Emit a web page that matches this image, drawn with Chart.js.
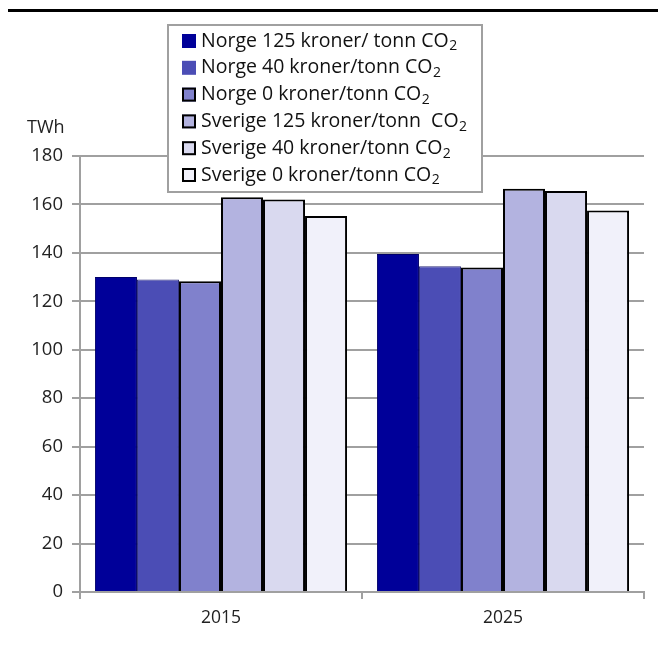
<!DOCTYPE html>
<html>
<head>
<meta charset="utf-8">
<script src="https://cdn.jsdelivr.net/npm/chart.js@4/dist/chart.umd.min.js"></script>
<style>
  html, body { margin: 0; padding: 0; background: #fff; }
  #wrap { width: 666px; height: 646px; position: relative; }
</style>
</head>
<body>
<div id="wrap"><canvas id="c" width="666" height="646"></canvas></div>
<script>
// Electricity demand, TWh, by CO2 price scenario
const years = ["2015", "2025"];
const seriesNames = [
  "Norge 125 kroner/ tonn CO₂",
  "Norge 40 kroner/tonn CO₂",
  "Norge 0 kroner/tonn CO₂",
  "Sverige 125 kroner/tonn  CO₂",
  "Sverige 40 kroner/tonn CO₂",
  "Sverige 0 kroner/tonn CO₂"
];
const norge125 = [130, 139.5];
const norge40 = [129, 134.5];
const norge0 = [128.3, 134];
const sverige125 = [163, 166.5];
const sverige40 = [162, 165.5];
const sverige0 = [155.2, 157.5];
const yTicks = [0, 20, 40, 60, 80, 100, 120, 140, 160, 180];
const unitLabel = "TWh";

const fills = ["#000099", "#4b4db5", "#8081cc", "#b3b3e0", "#d9d9ef", "#f1f1fa"];
const borders = ["#00006b", "#2e2f7a", "#000000", "#000000", "#000000", "#000000"];
const borderWidths = [1, 1, 2, 2, 2, 2];
const FONT = "'Open Sans', 'Noto Sans', sans-serif";

const seriesValues = [norge125, norge40, norge0, sverige125, sverige40, sverige0];
const datasets = seriesValues.map((vals, i) => ({
  label: seriesNames[i],
  data: vals,
  backgroundColor: fills[i],
  borderColor: borders[i],
  borderWidth: borderWidths[i],
  borderSkipped: "bottom",
  categoryPercentage: 0.894,
  barPercentage: 1.0
}));

// Draws text, rendering "₂" as a lowered, smaller "2"
function drawRich(ctx, text, x, y, size) {
  let cx = x;
  for (const ch of text) {
    if (ch === "₂") {
      ctx.font = Math.round(size * 0.72) + "px " + FONT;
      ctx.fillText("2", cx + 0.5, y + size * 0.28);
      cx += ctx.measureText("2").width;
      ctx.font = size + "px " + FONT;
    } else {
      ctx.fillText(ch, cx, y);
      cx += ctx.measureText(ch).width;
    }
  }
}

const decorations = {
  id: "decorations",
  afterDraw(chart) {
    const ctx = chart.ctx;
    ctx.save();
    // rule along the top
    ctx.fillStyle = "#000";
    ctx.fillRect(8, 9, 650, 3);

    // unit label above the value axis
    ctx.fillStyle = "#222";
    ctx.font = "18px " + FONT;
    ctx.textAlign = "left";
    ctx.textBaseline = "middle";
    ctx.fillText(unitLabel, 27, 128);

    // legend box
    const bx = 168, by = 25, bw = 314, bh = 167;
    ctx.fillStyle = "#fff";
    ctx.fillRect(bx, by, bw, bh);
    ctx.strokeStyle = "#a0a0a0";
    ctx.lineWidth = 2;
    ctx.strokeRect(bx, by, bw, bh);

    const size = 19.5;
    chart.data.datasets.forEach((ds, i) => {
      const cy = 41 + i * 26.8;
      const mx = 182, ms = 14;
      ctx.fillStyle = ds.backgroundColor;
      ctx.fillRect(mx, cy - ms / 2, ms, ms);
      if (ds.borderWidth >= 2) {
        ctx.strokeStyle = "#000";
        ctx.lineWidth = 2;
        ctx.strokeRect(mx + 1, cy - ms / 2 + 1, ms - 2, ms - 2);
      }
      ctx.fillStyle = "#111";
      ctx.font = size + "px " + FONT;
      ctx.textAlign = "left";
      ctx.textBaseline = "middle";
      drawRich(ctx, ds.label, 201, cy, size);
    });
    ctx.restore();
  }
};

new Chart(document.getElementById("c"), {
  type: "bar",
  data: { labels: years, datasets },
  options: {
    responsive: false,
    animation: false,
    devicePixelRatio: 1,
    layout: { padding: { left: 0, right: 22, top: 156, bottom: 0 } },
    plugins: { legend: { display: false }, tooltip: { enabled: false } },
    scales: {
      x: {
        offset: true,
        grid: {
          offset: true,
          drawOnChartArea: false,
          drawTicks: true,
          tickLength: 7,
          color: "#a0a0a0",
          lineWidth: 2
        },
        border: { color: "#a0a0a0", width: 2 },
        ticks: { color: "#222", font: { family: FONT, size: 17.5 }, padding: 9 },
        afterFit(scale) { scale.height = 54; }
      },
      y: {
        min: 0,
        max: 180,
        afterBuildTicks(scale) { scale.ticks = yTicks.map(v => ({ value: v })); },
        grid: {
          color: "#a0a0a0",
          lineWidth: 2,
          tickLength: 8,
          drawTicks: true
        },
        border: { color: "#a0a0a0", width: 2 },
        ticks: { color: "#222", font: { family: FONT, size: 18.5 }, padding: 9 },
        afterFit(scale) { scale.width = 80; }
      }
    }
  },
  plugins: [decorations]
});
</script>
</body>
</html>
